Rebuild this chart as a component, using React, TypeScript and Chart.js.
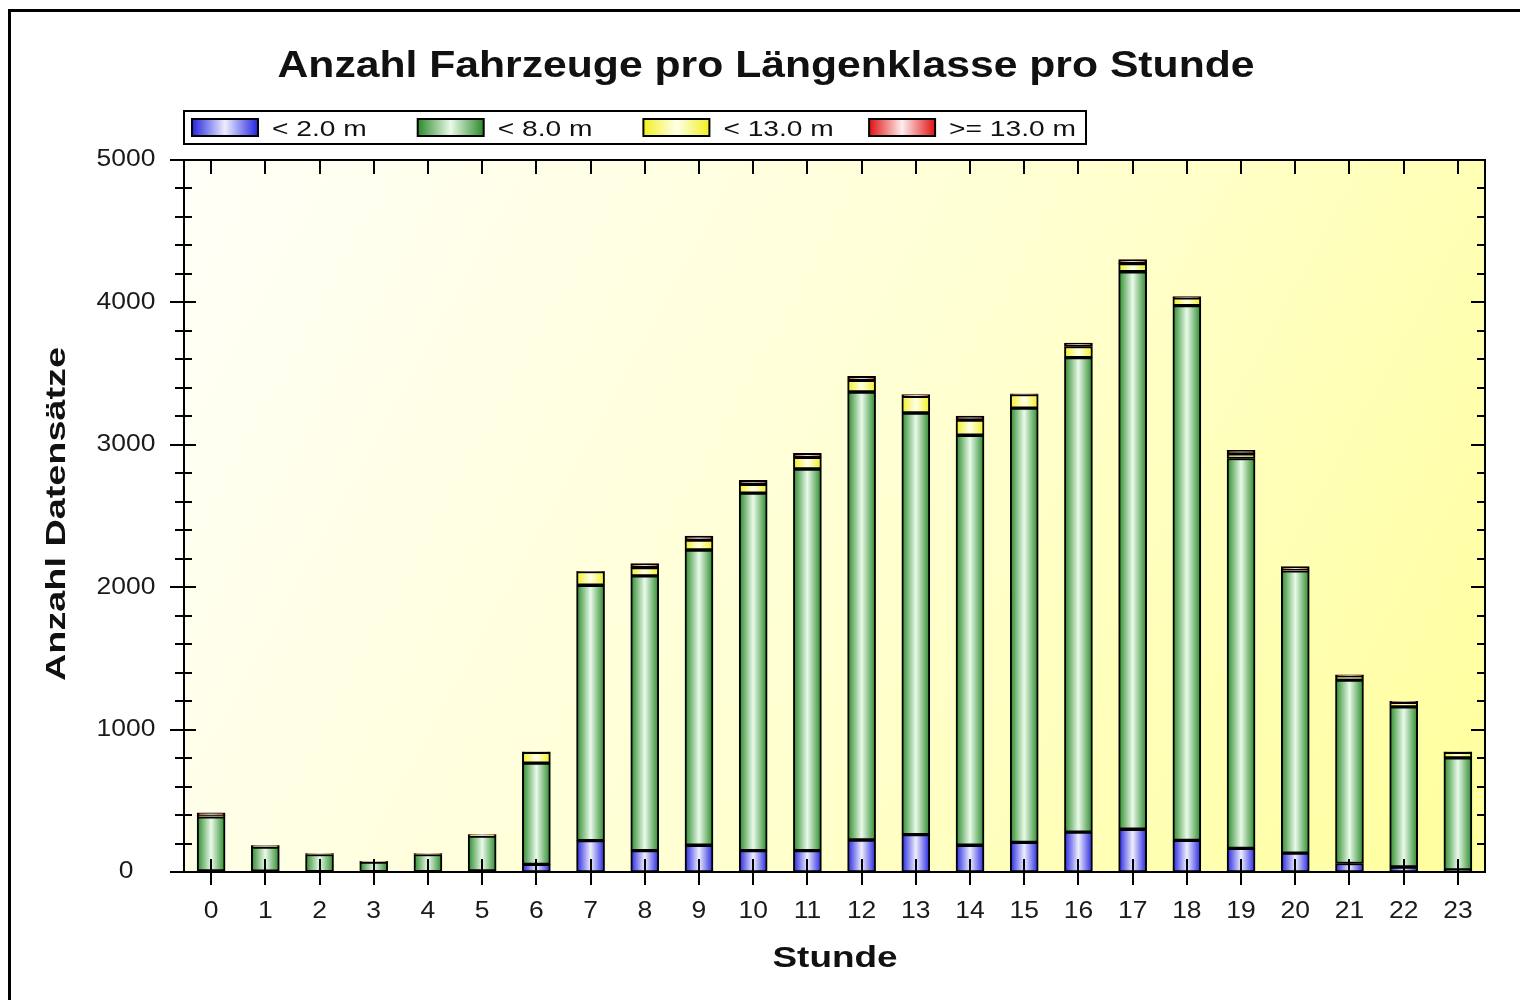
import React, { useEffect, useRef } from "react";
import { Chart, registerables } from "chart.js";

Chart.register(...registerables);

// ---------- data ----------
const hours = ["0", "1", "2", "3", "4", "5", "6", "7", "8", "9", "10", "11", "12", "13", "14", "15", "16", "17", "18", "19", "20", "21", "22", "23"];
const under2m = [8, 5, 3, 2, 3, 8, 54, 220, 150, 188, 150, 150, 225, 262, 188, 208, 280, 300, 222, 166, 132, 60, 35, 14];
const under8m = [380, 170, 120, 68, 120, 245, 711, 1794, 1930, 2073, 2511, 2680, 3146, 2961, 2879, 3050, 3332, 3915, 3755, 2738, 1983, 1287, 1125, 788];
const under13m = [8, 8, 5, 4, 5, 8, 76, 96, 57, 70, 62, 82, 82, 118, 107, 95, 78, 57, 55, 33, 5, 30, 32, 38];
const over13m = [20, 3, 1, 1, 1, 2, 3, 2, 28, 28, 28, 28, 28, 12, 28, 5, 25, 28, 8, 25, 25, 8, 6, 4];
const seriesNames = ["< 2.0 m", "< 8.0 m", "< 13.0 m", ">= 13.0 m"];
const yTickLabels = [0, 1000, 2000, 3000, 4000, 5000];
const yMinorStep = 200;
const yMax = 5000;
const titleText = "Anzahl Fahrzeuge pro Längenklasse pro Stunde";
const xTitleText = "Stunde";
const yTitleText = "Anzahl Datensätze";

// ---------- styles ----------
const palettes: [string, string][] = [
  ["#2424e0", "#eeeeff"],
  ["#2a8a2a", "#eafaea"],
  ["#f0f020", "#ffffea"],
  ["#e01010", "#ffeeee"],
];
const BAR_W = 28;
const FONT = '"Liberation Sans", Arial, sans-serif';

function barGradient(ctx: CanvasRenderingContext2D, x0: number, x1: number, p: [string, string]) {
  const g = ctx.createLinearGradient(x0, 0, x1, 0);
  g.addColorStop(0, p[0]);
  g.addColorStop(0.5, p[1]);
  g.addColorStop(1, p[0]);
  return g;
}

function drawText(
  ctx: CanvasRenderingContext2D,
  s: string,
  x: number,
  y: number,
  size: number,
  bold: boolean,
  align: CanvasTextAlign,
  color: string,
  sx: number,
  rot = 0,
  baseline: CanvasTextBaseline = "alphabetic"
) {
  ctx.save();
  ctx.font = `${bold ? "bold " : ""}${size}px ${FONT}`;
  ctx.fillStyle = color;
  ctx.textAlign = align;
  ctx.textBaseline = baseline;
  ctx.translate(x, y);
  if (rot) ctx.rotate(rot);
  ctx.scale(sx, 1);
  ctx.fillText(s, 0, 0);
  ctx.restore();
}

function fitScale(ctx: CanvasRenderingContext2D, s: string, size: number, bold: boolean, target: number) {
  ctx.save();
  ctx.font = `${bold ? "bold " : ""}${size}px ${FONT}`;
  const w = ctx.measureText(s).width;
  ctx.restore();
  return target / w;
}

const decorPlugin = {
  id: "decor",
  beforeDraw(chart: any) {
    const ctx: CanvasRenderingContext2D = chart.ctx;
    const { left, right, top, bottom } = chart.chartArea;
    ctx.save();
    ctx.fillStyle = "#ffffff";
    ctx.fillRect(0, 0, chart.width, chart.height);
    // outer frame
    ctx.strokeStyle = "#000";
    ctx.lineWidth = 3;
    ctx.strokeRect(9.5, 10.5, chart.width + 50, chart.height + 50);
    // plot background
    const g = ctx.createLinearGradient(left, top, right, bottom);
    g.addColorStop(0, "#fffff8");
    g.addColorStop(0.5, "#ffffd4");
    g.addColorStop(1, "#ffff9c");
    ctx.fillStyle = g;
    ctx.fillRect(left, top, right - left, bottom - top);
    ctx.restore();
  },
  afterDraw(chart: any) {
    const ctx: CanvasRenderingContext2D = chart.ctx;
    const { left, right, top, bottom } = chart.chartArea;
    const xs = chart.scales.x;
    const ys = chart.scales.y;
    ctx.save();
    ctx.strokeStyle = "#000";
    ctx.lineWidth = 2;
    ctx.strokeRect(left, top, right - left, bottom - top);
    ctx.beginPath();
    for (let v = 0; v <= yMax; v += yMinorStep) {
      const y = Math.round(ys.getPixelForValue(v));
      const major = v % 1000 === 0;
      if (major) {
        ctx.moveTo(left - 14, y);
        ctx.lineTo(left + 12, y);
        ctx.moveTo(right - 14, y);
        ctx.lineTo(right, y);
      } else {
        ctx.moveTo(left - 9, y);
        ctx.lineTo(left + 8, y);
        ctx.moveTo(right - 8, y);
        ctx.lineTo(right, y);
      }
    }
    hours.forEach((_, i) => {
      const x = Math.round(xs.getPixelForValue(i));
      ctx.moveTo(x, bottom - 13);
      ctx.lineTo(x, bottom + 13);
      ctx.moveTo(x, top);
      ctx.lineTo(x, top + 14);
    });
    ctx.stroke();
    ctx.restore();

    // tick labels
    yTickLabels.forEach((v) => {
      drawText(ctx, String(v), left - 58, ys.getPixelForValue(v), 23, false, "center", "#1a1a1a", 1.15, 0, "middle");
    });
    hours.forEach((h, i) => {
      drawText(ctx, h, xs.getPixelForValue(i), 918, 23, false, "center", "#1a1a1a", 1.15);
    });

    // titles
    const tsx = fitScale(ctx, titleText, 36, true, 977);
    drawText(ctx, titleText, 766, 77, 36, true, "center", "#111", tsx);
    const xsx = fitScale(ctx, xTitleText, 29, true, 125);
    drawText(ctx, xTitleText, 835, 967, 29, true, "center", "#111", xsx);
    const ysx = fitScale(ctx, yTitleText, 28, true, 334);
    drawText(ctx, yTitleText, 65, 514, 28, true, "center", "#111", ysx, -Math.PI / 2);

    // legend
    ctx.save();
    ctx.fillStyle = "#fff";
    ctx.fillRect(184, 111, 902, 33);
    ctx.strokeStyle = "#000";
    ctx.lineWidth = 2;
    ctx.strokeRect(184, 111, 902, 33);
    seriesNames.forEach((name, i) => {
      const sx0 = 192 + i * 225.7;
      ctx.fillStyle = barGradient(ctx, sx0, sx0 + 66, palettes[i]);
      ctx.fillRect(sx0, 119, 66, 17);
      ctx.strokeStyle = "#000";
      ctx.lineWidth = 2;
      ctx.strokeRect(sx0, 119, 66, 17);
      drawText(ctx, name, sx0 + 80, 136, 22, false, "left", "#111", 1.28);
    });
    ctx.restore();
  },
};

export default function App() {
  const ref = useRef<HTMLCanvasElement | null>(null);
  useEffect(() => {
    if (!ref.current) return;
    const series = [under2m, under8m, under13m, over13m];
    const chart = new Chart(ref.current, {
      type: "bar",
      data: {
        labels: hours,
        datasets: series.map((d, si) => ({
          label: seriesNames[si],
          data: d,
          barThickness: BAR_W,
          borderWidth: 2,
          borderColor: "#000",
          borderSkipped: false,
          backgroundColor: (c: any) => {
            const ch = c.chart;
            if (!ch.chartArea || c.dataIndex === undefined || !ch.scales.x) return palettes[si][0];
            const x = ch.scales.x.getPixelForValue(c.dataIndex);
            return barGradient(ch.ctx, x - BAR_W / 2, x + BAR_W / 2, palettes[si]);
          },
        })),
      },
      options: {
        responsive: false,
        animation: false,
        devicePixelRatio: 1,
        layout: { padding: { left: 0, top: 160, right: 35, bottom: 0 } },
        plugins: {
          legend: { display: false },
          title: { display: false },
          tooltip: { enabled: false },
        },
        scales: {
          x: {
            stacked: true,
            offset: true,
            grid: { display: false },
            border: { display: false },
            ticks: { display: false },
            afterFit: (s: any) => {
              s.height = 128;
            },
          },
          y: {
            stacked: true,
            min: 0,
            max: yMax,
            grid: { display: false },
            border: { display: false },
            ticks: { display: false, stepSize: 1000 },
            afterFit: (s: any) => {
              s.width = 184;
            },
          },
        },
      } as any,
      plugins: [decorPlugin],
    });
    return () => chart.destroy();
  }, []);
  return (
    <div style={{ position: "absolute", left: 0, top: 0, width: 1520, height: 1000 }}>
      <canvas ref={ref} width={1520} height={1000} style={{ width: 1520, height: 1000, display: "block" }} />
    </div>
  );
}
